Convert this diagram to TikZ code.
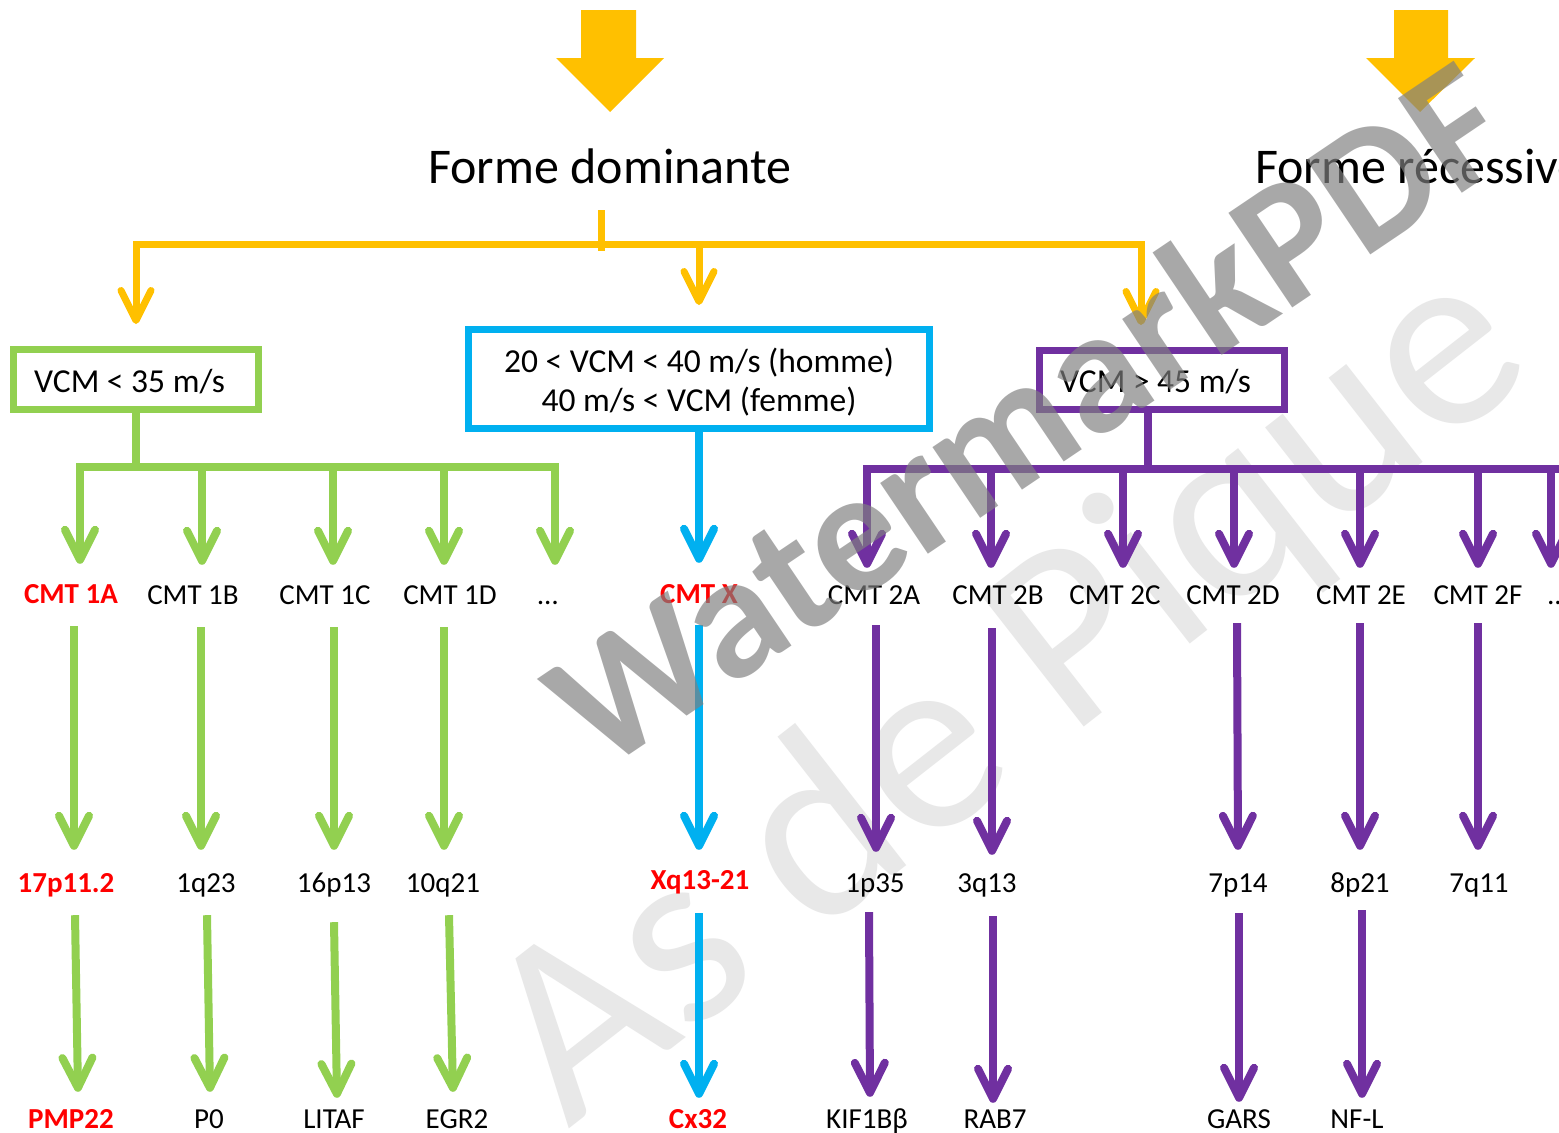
\documentclass[tikz,border=0pt]{standalone}
\usepackage{fontspec}
\setmainfont{Carlito}
\usetikzlibrary{arrows.meta}
\definecolor{cyel}{HTML}{FFC000}
\definecolor{cgrn}{HTML}{92D050}
\definecolor{cblu}{HTML}{00B0F0}
\definecolor{cpur}{HTML}{7030A0}
\definecolor{cred}{HTML}{FF0000}
\newcommand{\lblfont}{\fontsize{29}{35}\selectfont}
\newcommand{\boxfont}{\fontsize{33.5}{40}\selectfont}
\begin{document}
\begin{tikzpicture}[x=1pt,y=-1pt,
  yl/.style={draw=cyel, line width=7pt},
  gl/.style={draw=cgrn, line width=8pt},
  bl/.style={draw=cblu, line width=8pt},
  pl/.style={draw=cpur, line width=8pt},
  arr/.style={-{Straight Barb[length=30pt,width=30pt,round]}},
  lbl/.style={inner sep=0pt, text height=20pt, text depth=6pt, anchor=base, font=\lblfont},
  rlbl/.style={lbl, text=cred, font=\lblfont\bfseries},
  boxtxt/.style={inner sep=0pt, anchor=base west, font=\boxfont},
  cbox/.style={line width=7pt, inner sep=0pt, fill=white, fill opacity=0},
]
\useasboundingbox (0,0) rectangle (1559,1133);
\fill[white] (0,0) rectangle (1559,1133);
\clip (0,0) rectangle (1559,1133);

% background watermark
\node[anchor=base west, rotate=38, inner sep=0pt, text=black!9,
      font=\fontsize{260}{300}\selectfont] (wmb) at (568,1130) {As de Pique};

% big yellow arrows
\fill[cyel] (581,10) -- (636,10) -- (636,58) -- (664,58) -- (610,112) -- (556,58) -- (581,58) -- cycle;
\fill[cyel] (1394,10) -- (1448,10) -- (1448,58) -- (1475,58) -- (1420,112) -- (1366,58) -- (1394,58) -- cycle;

% titles
\node[anchor=base, inner sep=0pt, font=\fontsize{50}{60}\selectfont] (dom) at (610,183) {Forme dominante};
\node[anchor=base west, inner sep=0pt, font=\fontsize{50}{60}\selectfont] (rec) at (1255,183) {Forme récessive};

% boxes
\node[cbox, draw=cgrn, minimum width=245pt, minimum height=60pt] (gbox) at (136,379.5) {};
\node[cbox, draw=cblu, minimum width=461pt, minimum height=99pt] (bbox) at (699,379) {};
\node[cbox, draw=cpur, minimum width=245pt, minimum height=59pt] (pbox) at (1162,380) {};
\node[boxtxt] (gt) at (34,392) {VCM < 35 m/s};
\node[boxtxt] (pt) at (1060,392) {VCM > 45 m/s};
\node[anchor=base, inner sep=0pt, font=\boxfont] (bt1) at (699,372) {20 < VCM < 40 m/s (homme)};
\node[anchor=base, inner sep=0pt, font=\boxfont] (bt2) at (699,411) {40 m/s < VCM (femme)};

% row 1 labels
\node[rlbl] (a1) at (71,603) {CMT 1A};
\node[lbl] (b1) at (193,604) {CMT 1B};
\node[lbl] (c1) at (325,604) {CMT 1C};
\node[lbl] (d1) at (450,604) {CMT 1D};
\node[lbl] (e1) at (548,604) {…};
\node[rlbl] (x1) at (699,603) {CMT X};
\node[lbl] (p1) at (874,604) {CMT 2A};
\node[lbl] (q1) at (998,604) {CMT 2B};
\node[lbl] (r1) at (1115,604) {CMT 2C};
\node[lbl] (s1) at (1233,604) {CMT 2D};
\node[lbl] (t1) at (1361,604) {CMT 2E};
\node[lbl] (u1) at (1478,604) {CMT 2F};
\node[lbl] (v1) at (1558,604) {…};

% row 2 labels
\node[rlbl] (a2) at (66,892) {17p11.2};
\node[lbl] (b2) at (206,892) {1q23};
\node[lbl] (c2) at (334,892) {16p13};
\node[lbl] (d2) at (443,892) {10q21};
\node[rlbl] (x2) at (700,889) {Xq13-21};
\node[lbl] (p2) at (875,892) {1p35};
\node[lbl] (q2) at (987,892) {3q13};
\node[lbl] (s2) at (1238,892) {7p14};
\node[lbl] (t2) at (1360,892) {8p21};
\node[lbl] (u2) at (1479,892) {7q11};

% row 3 labels
\node[rlbl] (a3) at (71,1128) {PMP22};
\node[lbl] (b3) at (209,1128) {P0};
\node[lbl] (c3) at (334,1128) {LITAF};
\node[lbl] (d3) at (457,1128) {EGR2};
\node[rlbl] (x3) at (698,1128) {Cx32};
\node[lbl] (p3) at (867,1128) {KIF1Bβ};
\node[lbl] (q3) at (995,1128) {RAB7};
\node[lbl] (s3) at (1239,1128) {GARS};
\node[lbl] (t3) at (1357,1128) {NF-L};

% yellow connectors
\coordinate (ystub) at (601,210);
\coordinate (ybus) at (601,244);
\draw[yl] (ystub) -- ([yshift=-7pt]ybus);
\draw[yl, {Straight Barb[length=30pt,width=30pt,round]}-{Straight Barb[length=30pt,width=30pt,round]}]
  ([yshift=22pt]gbox.north) |- (ybus) -| ([xshift=-21pt,yshift=22pt]pbox.north);
\draw[yl, arr] (ybus -| bbox.north) -- ([yshift=21pt]bbox.north);

% green tree
\coordinate (gbus) at (136,467);
\draw[gl] (gbox.south) -- (gbus);
\draw[gl, line cap=rect] ([xshift=9pt]a1.north |- gbus) -- ([xshift=7pt]e1.north |- gbus);
\draw[gl, arr] ([xshift=9pt]a1.north |- gbus) -- ([xshift=9pt,yshift=19pt]a1.north);
\draw[gl, arr] ([xshift=9pt]b1.north |- gbus) -- ([xshift=9pt,yshift=19pt]b1.north);
\draw[gl, arr] ([xshift=8pt]c1.north |- gbus) -- ([xshift=8pt,yshift=19pt]c1.north);
\draw[gl, arr] ([xshift=-6pt]d1.north |- gbus) -- ([xshift=-6pt,yshift=19pt]d1.north);
\draw[gl, arr] ([xshift=7pt]e1.north |- gbus) -- ([xshift=7pt,yshift=19pt]e1.north);

\draw[gl, arr] ([xshift=3pt,yshift=-17pt]a1.south) -- ([xshift=8pt,yshift=22pt]a2.north);
\draw[gl, arr] ([xshift=8pt,yshift=-17pt]b1.south) -- ([xshift=-5pt,yshift=22pt]b2.north);
\draw[gl, arr] ([xshift=9pt,yshift=-17pt]c1.south) -- ([xshift=0pt,yshift=22pt]c2.north);
\draw[gl, arr] ([xshift=-6pt,yshift=-17pt]d1.south) -- ([xshift=1pt,yshift=22pt]d2.north);

\draw[gl, arr] ([xshift=9pt,yshift=-17pt]a2.south) -- ([xshift=7pt,yshift=16pt]a3.north);
\draw[gl, arr] ([xshift=1pt,yshift=-17pt]b2.south) -- ([xshift=1pt,yshift=16pt]b3.north);
\draw[gl, arr] ([xshift=0pt,yshift=-24pt]c2.south) -- ([xshift=3pt,yshift=10pt]c3.north);
\draw[gl, arr] ([xshift=6pt,yshift=-17pt]d2.south) -- ([xshift=-4pt,yshift=16pt]d3.north);

% blue chain
\draw[bl, arr] (bbox.south) -- ([yshift=20pt]x1.north);
\draw[bl, arr] ([yshift=-16pt]x1.south) -- ([xshift=-1pt,yshift=19pt]x2.north);
\draw[bl, arr] ([xshift=-1pt,yshift=-18pt]x2.south) -- ([xshift=1pt,yshift=10pt]x3.north);

% purple tree
\coordinate (pbus) at (1148,469);
\coordinate (pbusend) at (1580,469);
\draw[pl] ([xshift=-14pt]pbox.south) -- (pbus);
\draw[pl, line cap=rect] ([xshift=-7pt]p1.north |- pbus) -- (pbusend);
\draw[pl, arr] ([xshift=-7pt]p1.north |- pbus) -- ([xshift=-7pt,yshift=16pt]p1.north);
\draw[pl, arr] ([xshift=-7pt]q1.north |- pbus) -- ([xshift=-7pt,yshift=16pt]q1.north);
\draw[pl, arr] ([xshift=8pt]r1.north |- pbus) -- ([xshift=8pt,yshift=16pt]r1.north);
\draw[pl, arr] ([xshift=1pt]s1.north |- pbus) -- ([xshift=1pt,yshift=16pt]s1.north);
\draw[pl, arr] ([xshift=-1pt]t1.north |- pbus) -- ([xshift=-1pt,yshift=16pt]t1.north);
\draw[pl, arr] (u1.north |- pbus) -- ([yshift=16pt]u1.north);
\draw[pl, arr] ([xshift=-7pt]v1.north |- pbus) -- ([xshift=-7pt,yshift=16pt]v1.north);

\draw[pl, arr] ([xshift=2pt,yshift=-15pt]p1.south) -- ([xshift=1pt,yshift=20pt]p2.north);
\draw[pl, arr] ([xshift=-6pt,yshift=-18pt]q1.south) -- ([xshift=5pt,yshift=17pt]q2.north);
\draw[pl, arr] ([xshift=4pt,yshift=-13pt]s1.south) -- ([xshift=0pt,yshift=22pt]s2.north);
\draw[pl, arr] ([xshift=-1pt,yshift=-13pt]t1.south) -- ([xshift=0pt,yshift=22pt]t2.north);
\draw[pl, arr] ([yshift=-13pt]u1.south) -- ([xshift=-1pt,yshift=22pt]u2.north);

\draw[pl, arr] ([xshift=-6pt,yshift=-14pt]p2.south) -- ([xshift=3pt,yshift=11pt]p3.north);
\draw[pl, arr] ([xshift=6pt,yshift=-18pt]q2.south) -- ([xshift=-2pt,yshift=5pt]q3.north);
\draw[pl, arr] ([xshift=1pt,yshift=-15pt]s2.south) -- ([yshift=6pt]s3.north);
\draw[pl, arr] ([xshift=2pt,yshift=-12pt]t2.south) -- ([xshift=5pt,yshift=10pt]t3.north);

% foreground watermark
\node[anchor=base west, rotate=34, inner sep=0pt, text=gray, text opacity=0.68,
      font=\fontsize{176}{200}\selectfont\bfseries] (wmf) at (600,775) {WatermarkPDF};
\end{tikzpicture}
\end{document}
